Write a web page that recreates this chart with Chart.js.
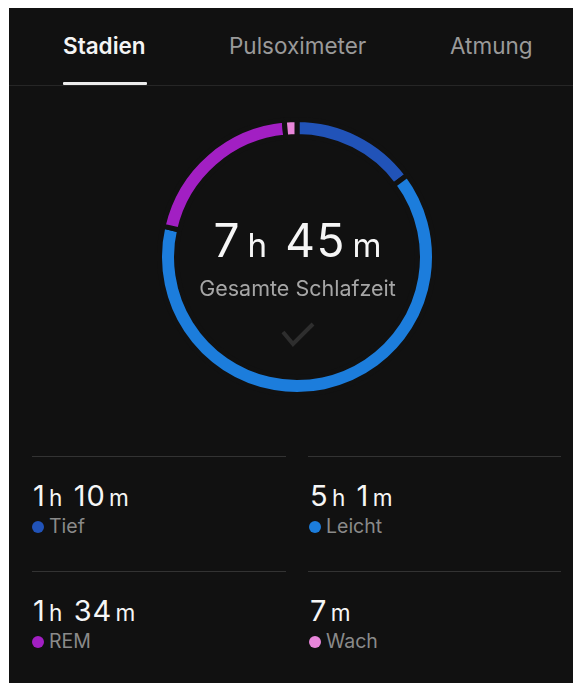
<!DOCTYPE html>
<html>
<head>
<meta charset="utf-8">
<script src="https://cdn.jsdelivr.net/npm/chart.js@4/dist/chart.umd.min.js"></script>
<style>
	html, body { margin: 0; padding: 0; background: #fff; }
	body { width: 573px; height: 684px; position: relative; overflow: hidden; font-family: Inter, Roboto, sans-serif; }
	#panel { position: absolute; left: 9px; top: 8px; right: 0; bottom: 1px; background: #111111; }
	.abs { position: absolute; white-space: nowrap; line-height: 1; }
	.tab { color: #9a9a9a; }
	.tab.active { color: #f4f4f4; font-weight: 600; }
	#underline { position: absolute; left: 63px; top: 82px; width: 84px; height: 3px; background: #ececec; border-radius: 1px; }
	#sep { position: absolute; left: 9px; right: 0; top: 85px; height: 1px; background: #262626; }
	#ring { position: absolute; left: 157px; top: 117px; width: 280px; height: 280px; }
	.val { color: #f6f6f6; letter-spacing: 0.03em; }
	.unit { font-size: 0.78em; margin: 0 0.5em 0 0.15em; letter-spacing: 0; }
	#total .unit { font-size: 0.72em; margin: 0 0.55em 0 0.2em; }
	.val .unit:last-child, #total .unit:last-child { margin-right: 0; }
	#total { text-align: center; }
	#totalLabel { color: #a6a6a6; text-align: center; }
	.rule { position: absolute; height: 1px; background: #333333; }
	.dot { position: absolute; width: 12px; height: 12px; border-radius: 50%; }
	.lbl { color: #8a8a8a; }
</style>
</head>
<body>
<div id="panel"></div>
<div id="sep"></div>
<div id="underline"></div>
<div id="ring"><canvas id="sleep-chart"></canvas></div>
<svg class="abs" style="left:280px;top:321px" width="36" height="28" viewBox="0 0 36 28">
	<polyline points="3,11 13,23 33,3" fill="none" stroke="#2e2e2e" stroke-width="4"/>
</svg>

<script>
//////////////////////////////////////////
// SLEEP STAGES
//////////////////////////////////////////

var tabs = ["Stadien", "Pulsoximeter", "Atmung"];
var stages = ["Tief", "Leicht", "REM", "Wach"];
var minutes = [70, 301, 94, 7];
var colors = ["#2153b8", "#1c7ddc", "#a21fc3", "#e886da"];
var totalLabel = "Gesamte Schlafzeit";

// Put a text element so that its baseline lands on y (Inter metrics)
function place(html, cls, x, baseline, size, width) {
	var el = document.createElement("div");
	el.className = "abs " + cls;
	el.innerHTML = html;
	el.style.fontSize = size + "px";
	el.style.top = (baseline - 0.864 * size) + "px";
	el.style.left = x + "px";
	if (width) el.style.width = width + "px";
	document.body.appendChild(el);
	return el;
}

// "1 h 10 m" style, units smaller
function formatDuration(m) {
	var h = Math.floor(m / 60);
	var rest = m % 60;
	var html = "";
	if (h > 0) html += h + '<span class="unit">h</span>';
	html += rest + '<span class="unit">m</span>';
	return html;
}

window.addEventListener("load", function() {
	// Tabs
	var tab_x = [63, 229, 450];
	for (var i = 0; i < tabs.length; i++) {
		place(tabs[i], "tab" + (i === 0 ? " active" : ""), tab_x[i], 54, 22.5);
	}

	// Total sleep = everything except awake time
	var asleep = 0;
	for (var i = 0; i < stages.length; i++) {
		if (stages[i] !== "Wach") asleep += minutes[i];
	}
	place(formatDuration(asleep), "val", 97.5, 257, 46, 400).id = "total";
	place(totalLabel, "", 97.5, 297, 21.5, 400).id = "totalLabel";

	// Ring chart
	var ctx = document.getElementById("sleep-chart");
	var sleep_chart = new Chart(ctx, {
		type: "doughnut",
		data: {
			labels: stages,
			datasets: [{
				data: minutes,
				backgroundColor: colors,
				borderColor: "#111111",
				borderWidth: 5
			}]
		},
		options: {
			responsive: true,
			maintainAspectRatio: false,
			animation: false,
			events: [],
			cutout: 120.5,
			rotation: 0,
			layout: { padding: 0 },
			plugins: { legend: { display: false }, tooltip: { enabled: false } }
		}
	});

	// Stage cards: Tief, Leicht on row 1; REM, Wach on row 2
	var col_x = [33, 310];
	var rule_x = [[32, 286], [308, 561]];
	var row_y = [456, 571];
	for (var i = 0; i < stages.length; i++) {
		var col = i % 2;
		var row = i < 2 ? 0 : 1;
		var top = row_y[row];
		var rule = document.createElement("div");
		rule.className = "rule";
		rule.style.left = rule_x[col][0] + "px";
		rule.style.width = (rule_x[col][1] - rule_x[col][0]) + "px";
		rule.style.top = top + "px";
		document.body.appendChild(rule);

		place(formatDuration(minutes[i]), "val", col_x[col], top + 50, 29);

		var dot = document.createElement("div");
		dot.className = "dot";
		dot.style.background = colors[i];
		dot.style.left = (col_x[col] - 1) + "px";
		dot.style.top = (top + 65) + "px";
		document.body.appendChild(dot);

		place(stages[i], "lbl", col_x[col] + 16, top + 78, 19.5);
	}
});
</script>
</body>
</html>
